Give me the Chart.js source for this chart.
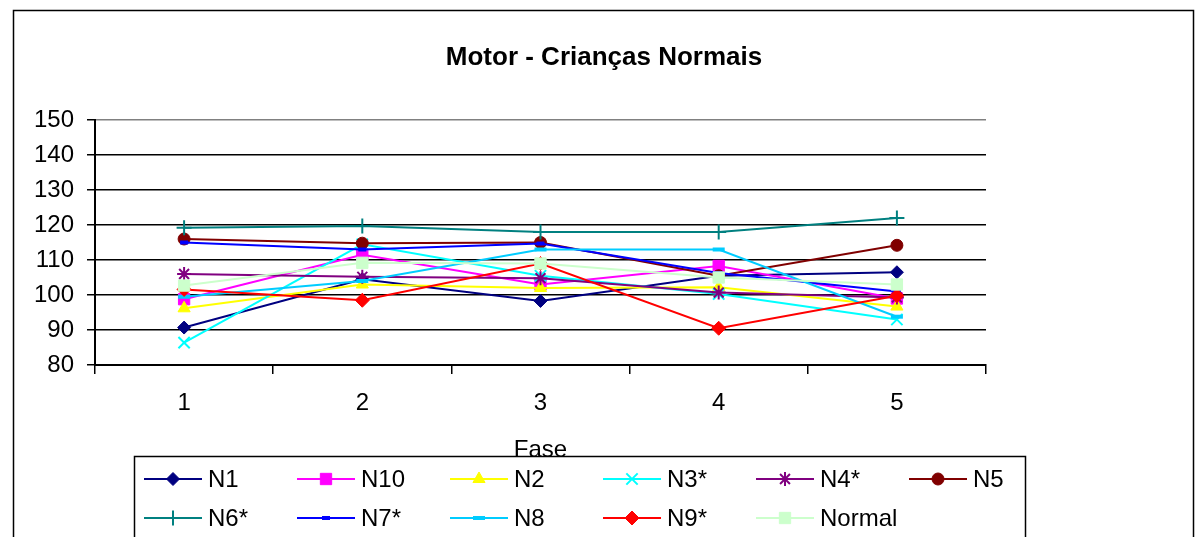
<!DOCTYPE html>
<html>
<head>
<meta charset="utf-8">
<script src="https://cdn.jsdelivr.net/npm/chart.js@4/dist/chart.umd.min.js"></script>
<style>
  html, body { margin: 0; padding: 0; background: #fff; }
  #wrap { width: 1195px; height: 537px; position: relative; }
  canvas { display: block; }
</style>
</head>
<body>
<div id="wrap"><canvas id="c" width="1195" height="537"></canvas></div>
<script>
// Categories (fases) and y-axis ticks
const fases = ['1', '2', '3', '4', '5'];
const yTicks = [80, 90, 100, 110, 120, 130, 140, 150];
const chartTitle = 'Motor - Crianças Normais';
const axisTitle = 'Fase';

// Motor scores per child, one value per fase
const n1     = [90.7, 104.5, 98.3, 105.5, 106.5];
const n10    = [98.8, 111.5, 103.0, 108.3, 99.0];
const n2     = [96.2, 103.0, 102.0, 102.2, 96.7];
const n3     = [86.4, 114.5, 105.5, 100.3, 93.0];
const n4     = [106.0, 105.2, 104.8, 100.7, 99.3];
const n5     = [116.0, 114.8, 115.0, 105.5, 114.2];
const n6     = [119.2, 119.7, 118.0, 118.0, 122.0];
const n7     = [115.0, 113.0, 114.7, 106.3, 101.0];
const n8     = [99.5, 104.0, 113.0, 113.0, 93.8];
const n9     = [101.6, 98.5, 109.0, 90.5, 99.8];
const normal = [102.7, 109.2, 109.0, 105.0, 103.0];

const seriesNames  = ['N1', 'N10', 'N2', 'N3*', 'N4*', 'N5', 'N6*', 'N7*', 'N8', 'N9*', 'Normal'];
const seriesValues = [n1, n10, n2, n3, n4, n5, n6, n7, n8, n9, normal];

// Line colour, marker shape and marker size for each series
const seriesStyles = [
  { color: '#000080', fill: '#000080', point: 'rectRot',  r: 6.5, bw: 1 },
  { color: '#FF00FF', fill: '#FF00FF', point: 'rect',     r: 8,   bw: 1 },
  { color: '#FFFF00', fill: '#FFFF00', point: 'triangle', r: 7,   bw: 1 },
  { color: '#00FFFF', fill: '#00FFFF', point: 'crossRot', r: 8,   bw: 2 },
  { color: '#800080', fill: '#800080', point: 'star',     r: 7,   bw: 2 },
  { color: '#800000', fill: '#800000', point: 'circle',   r: 6,   bw: 1 },
  { color: '#008080', fill: '#008080', point: 'cross',    r: 7.5, bw: 2 },
  { color: '#0000FF', fill: '#0000FF', point: 'line',     r: 4,   bw: 4 },
  { color: '#00CCFF', fill: '#00CCFF', point: 'line',     r: 6,   bw: 4 },
  { color: '#FF0000', fill: '#FF0000', point: 'rectRot',  r: 7,   bw: 1 },
  { color: '#CCFFCC', fill: '#CCFFCC', point: 'rect',     r: 8,   bw: 1 }
];

const FONT = '"Liberation Sans", Arial, sans-serif';

const datasets = seriesNames.map((name, i) => {
  const s = seriesStyles[i];
  return {
    label: name,
    data: seriesValues[i],
    borderColor: s.color,
    backgroundColor: s.fill,
    borderWidth: 2,
    pointStyle: s.point,
    pointRadius: s.r,
    pointHoverRadius: s.r,
    pointBackgroundColor: s.fill,
    pointBorderColor: s.color,
    pointBorderWidth: s.bw,
    tension: 0,
    order: seriesNames.length - i
  };
});

// Outer frame, page-centred title and a boxed two-row legend with line + marker samples
const frameAndLegend = {
  id: 'frameAndLegend',
  afterDraw(chart) {
    const ctx = chart.ctx;
    ctx.save();
    ctx.strokeStyle = '#000';
    ctx.lineWidth = 1.5;
    ctx.strokeRect(13.5, 10.5, 1180, 540);

    ctx.fillStyle = '#000';
    ctx.font = 'bold 26px ' + FONT;
    ctx.textAlign = 'center';
    ctx.textBaseline = 'middle';
    ctx.fillText(chartTitle, 604, 58);

    ctx.fillStyle = '#fff';
    ctx.fillRect(134, 456, 891, 100);
    ctx.strokeStyle = '#000';
    ctx.strokeRect(134.5, 456.5, 891, 100);

    chart.data.datasets.forEach((ds, i) => {
      const col = i % 6, row = Math.floor(i / 6);
      const tx = 208 + col * 153;
      const ty = 479 + row * 39;
      ctx.strokeStyle = ds.borderColor;
      ctx.lineWidth = 2;
      ctx.beginPath();
      ctx.moveTo(tx - 64, ty);
      ctx.lineTo(tx - 6, ty);
      ctx.stroke();

      ctx.fillStyle = ds.pointBackgroundColor;
      ctx.strokeStyle = ds.pointBorderColor;
      ctx.lineWidth = ds.pointBorderWidth;
      Chart.helpers.drawPoint(ctx, {
        pointStyle: ds.pointStyle,
        radius: ds.pointRadius,
        borderWidth: ds.pointBorderWidth,
        rotation: 0
      }, tx - 35, ty);

      ctx.fillStyle = '#000';
      ctx.font = '24px ' + FONT;
      ctx.textAlign = 'left';
      ctx.textBaseline = 'middle';
      ctx.fillText(ds.label, tx, ty + 1);
    });
    ctx.restore();
  }
};

new Chart(document.getElementById('c'), {
  type: 'line',
  data: { labels: fases, datasets },
  plugins: [frameAndLegend],
  options: {
    responsive: false,
    animation: false,
    devicePixelRatio: 1,
    layout: { padding: { left: 0, right: 209, top: 120, bottom: 0 } },
    plugins: {
      legend: { display: false },
      tooltip: { enabled: false },
      title: { display: false }
    },
    scales: {
      x: {
        offset: true,
        afterFit(scale) { scale.height = 172; },
        grid: {
          offset: true,
          drawOnChartArea: false,
          drawTicks: true,
          tickLength: 9,
          color: '#000',
          lineWidth: 1.5
        },
        border: { display: true, color: '#000', width: 2 },
        ticks: { color: '#000', font: { family: FONT, size: 24 }, padding: 15, maxRotation: 0 },
        title: {
          display: true,
          text: axisTitle,
          color: '#000',
          font: { family: FONT, size: 24 },
          padding: { top: 0, bottom: 72 }
        }
      },
      y: {
        min: yTicks[0],
        max: yTicks[yTicks.length - 1],
        afterFit(scale) { scale.width = 95; },
        afterBuildTicks(scale) { scale.ticks = yTicks.map(v => ({ value: v })); },
        grid: {
          color: (c) => (c.tick && c.tick.value === 150 ? '#808080' : '#000'),
          tickColor: '#000',
          lineWidth: 1.5,
          drawTicks: true,
          tickLength: 8
        },
        border: { display: true, color: '#000', width: 2 },
        ticks: { color: '#000', font: { family: FONT, size: 24 }, padding: 13 }
      }
    }
  }
});
</script>
</body>
</html>
